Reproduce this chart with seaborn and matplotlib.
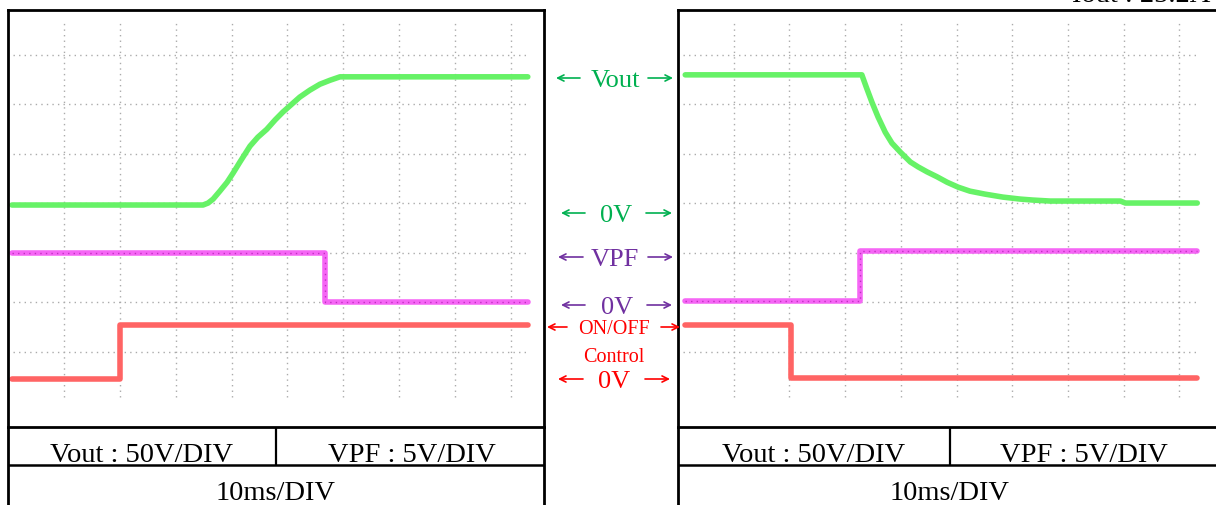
import matplotlib
matplotlib.use("Agg")
import matplotlib.pyplot as plt
import seaborn as sns

# Time in ms (10 ms/div), level in scope divisions
# --- start-up (left panel) ---
vout_on_t = [0.7, 34.9, 35.8, 36.7, 37.9, 39.2, 40.3, 41.5, 42.4, 43.3, 44.7, 46.3,
             47.8, 49.2, 50.8, 52.2, 54.0, 55.8, 57.6, 59.4, 93.0]
vout_on_v = [3.96, 3.96, 4.00, 4.08, 4.24, 4.42, 4.61, 4.83, 4.99, 5.15, 5.33, 5.49,
             5.68, 5.84, 6.00, 6.14, 6.28, 6.40, 6.48, 6.55, 6.55]
vpf_on_t = [0.7, 56.7, 56.7, 93.0]
vpf_on_v = [2.99, 2.99, 2.00, 2.00]
ctrl_on_t = [0.7, 20.0, 20.0, 93.0]
ctrl_on_v = [0.44, 0.44, 1.54, 1.54]

# --- shut-down (right panel) ---
vout_off_t = [1.3, 33.0, 33.8, 34.8, 35.9, 37.2, 38.4, 39.9, 41.7, 43.1, 44.7, 46.5,
              48.3, 50.3, 52.4, 55.1, 58.3, 61.4, 63.7, 66.8, 79.4, 80.3, 93.2]
vout_off_v = [6.59, 6.59, 6.34, 6.04, 5.74, 5.43, 5.21, 5.03, 4.83, 4.73, 4.63, 4.53,
              4.42, 4.32, 4.24, 4.18, 4.12, 4.08, 4.06, 4.04, 4.04, 4.00, 4.00]
vpf_off_t = [1.3, 32.7, 32.7, 93.2]
vpf_off_v = [2.02, 2.02, 3.03, 3.03]
ctrl_off_t = [1.3, 20.3, 20.3, 93.2]
ctrl_off_v = [1.54, 1.54, 0.46, 0.46]

scale_labels = ["Vout : 50V/DIV", "VPF : 5V/DIV"]
time_label = "10ms/DIV"
load_label = "Iout : 25.2A"

sns.set_theme(style="white")
plt.rcParams["font.family"] = ["Liberation Serif", "DejaVu Serif"]

W, H = 1216, 506
fig = plt.figure(figsize=(W / 100, H / 100), dpi=100)


def rect(x0, y0, x1, y1):
    return [x0 / W, 1 - y1 / H, (x1 - x0) / W, (y1 - y0) / H]


GREEN, MAGENTA, RED = "#66f266", "#f566f5", "#ff6464"


def scope(ax, xmax, vout, vpf, ctrl):
    ax.set_xlim(0, xmax)
    ax.set_ylim(-0.525, 7.9)
    ax.vlines(range(10, 100, 10), 0.08, 7.7, colors="#ababab",
              linestyles=(0, (1, 3)), lw=1)
    ax.hlines(range(1, 8), 0.9, 93, colors="#ababab",
              linestyles=(0, (1, 3)), lw=1)
    for (t, v), c in zip([vout, vpf, ctrl], [GREEN, MAGENTA, RED]):
        sns.lineplot(x=t, y=v, ax=ax, color=c, lw=4, estimator=None,
                     sort=False, legend=False)
    sns.lineplot(x=vpf[0], y=vpf[1], ax=ax, color="#c030c0", lw=1,
                 ls=(0, (1, 3)), estimator=None, sort=False, legend=False)
    ax.set_xticks([])
    ax.set_yticks([])
    ax.set_xlabel("")
    ax.set_ylabel("")
    for s in ax.spines.values():
        s.set_color("black")
        s.set_linewidth(2)


ax1 = fig.add_axes(rect(8, 11, 544, 428))
scope(ax1, 95.9, (vout_on_t, vout_on_v), (vpf_on_t, vpf_on_v),
      (ctrl_on_t, ctrl_on_v))
ax2 = fig.add_axes(rect(678, 11, 1224, 428))
scope(ax2, 98.0, (vout_off_t, vout_off_v), (vpf_off_t, vpf_off_v),
      (ctrl_off_t, ctrl_off_v))
ax2.spines["right"].set_visible(False)

# overlay in pixel coordinates for the tables and the middle labels
ov = fig.add_axes([0, 0, 1, 1])
ov.set_xlim(0, W)
ov.set_ylim(H, 0)
ov.axis("off")
ov.patch.set_alpha(0)

tables = [(8, 544, 276, 142, 412), (678, 1224, 950, 814, 1084)]
for x0, x1, xm, xa, xb in tables:
    ov.vlines([x0], 428, H + 5, colors="black", lw=2)
    if x1 < W:
        ov.vlines([x1], 428, H + 5, colors="black", lw=2)
    ov.hlines([466], x0, x1, colors="black", lw=1.8)
    ov.vlines([xm], 428, 466, colors="black", lw=1.6)
    ov.text(xa, 453, scale_labels[0], ha="center", va="center_baseline",
            fontsize=20.5, color="black")
    ov.text(xb, 453, scale_labels[1], ha="center", va="center_baseline",
            fontsize=20.5, color="black")
    ov.text(xm, 491, time_label, ha="center", va="center_baseline",
            fontsize=20.5, color="black")

# middle labels: (word, y, colour, size, left arrow span, word x, right arrow span)
labels = [("Vout", 78, "#00b050", 19, (556, 580), 615, (648, 673)),
          ("0V", 213, "#00b050", 19, (561, 585), 616, (646, 672)),
          ("VPF", 257, "#7030a0", 19, (558, 583), 615, (648, 673)),
          ("0V", 305, "#7030a0", 19, (561, 585), 617, (647, 672)),
          ("ON/OFF", 327, "#ff0000", 14.5, (547, 567), 614, (661, 680)),
          ("Control", 355, "#ff0000", 14.5, None, 614, None),
          ("0V", 379, "#ff0000", 19, (558, 583), 614, (645, 670))]
for word, y, c, fs, left, xw, right in labels:
    ov.text(xw, y, word, ha="center", va="center_baseline", fontsize=fs, color=c)
    if left is None:
        continue
    style = dict(arrowstyle="->", lw=1.2, color=c, shrinkA=0, shrinkB=0,
                 mutation_scale=11)
    ov.annotate("", xy=(left[0], y + 1), xytext=(left[1], y + 1), arrowprops=style)
    ov.annotate("", xy=(right[1], y + 1), xytext=(right[0], y + 1), arrowprops=style)

ov.text(1072, 1.5, load_label, ha="left", va="baseline", fontsize=20.5,
        color="black", clip_on=False)

fig.savefig("out.png", dpi=100)
